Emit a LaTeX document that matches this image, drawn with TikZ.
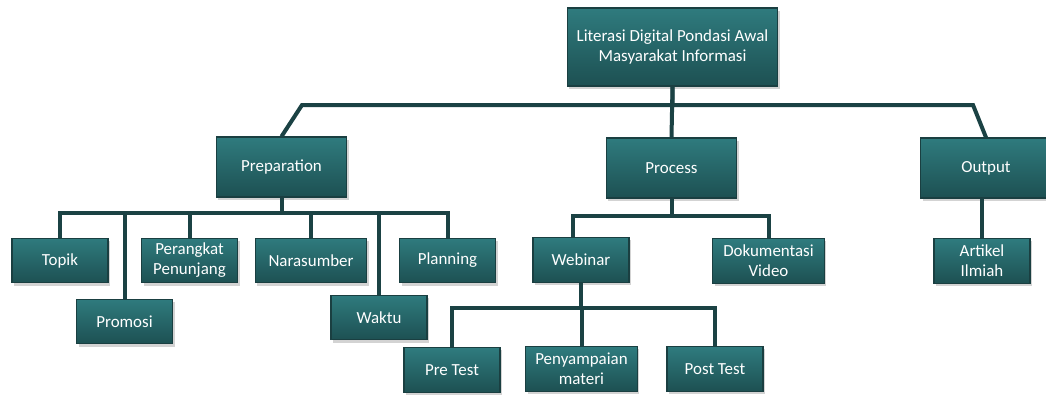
\documentclass[tikz,border=0pt]{standalone}
\usepackage{fontspec}
\setmainfont{Carlito}
\usepackage{tikz}
\usetikzlibrary{positioning,shadows}
\definecolor{boxtop}{HTML}{2F7B7E}
\definecolor{boxbot}{HTML}{1D5052}
\definecolor{boxline}{HTML}{1A3F41}
\definecolor{connline}{HTML}{1B4244}
\tikzset{
  box/.style={draw=boxline, line width=0.8pt, top color=boxtop, bottom color=boxbot,
    text=white, align=center, inner sep=2pt, font=\fontsize{12.7}{15}\selectfont,
    drop shadow={shadow xshift=1.5pt, shadow yshift=-2pt, opacity=0.35}},
  rootbox/.style={box, minimum width=158pt, minimum height=58.5pt},
  mainbox/.style={box, minimum width=98pt, minimum height=45pt},
  leaf/.style={box, minimum width=72pt, minimum height=33.5pt},
  wideleaf/.style={box, minimum width=83.5pt, minimum height=33.5pt},
  conn/.style={draw=connline, line width=3pt},
}
\begin{document}
\begin{tikzpicture}[x=0.75pt,y=-0.75pt]
        \useasboundingbox (0,0) rectangle (1046,394);
        % Boxes
        \node[rootbox] (root) at (672.5,47) {Literasi Digital Pondasi Awal\\Masyarakat Informasi};
        \node[mainbox] (prep) at (281.5,167) {Preparation};
        \node[mainbox] (proc) at (671.5,168) {Process};
        \node[mainbox] (outp) at (986,168) {Output};
        \node[leaf] (topik) at (60,260.5) {Topik};
        \node[leaf] (promosi) at (124.5,321.5) {Promosi};
        \node[leaf] (perangkat) at (189.5,260.5) {Perangkat\\Penunjang};
        \node[wideleaf] (narasumber) at (311,260.5) {Narasumber};
        \node[leaf] (waktu) at (379,317.5) {Waktu};
        \node[leaf] (planning) at (447.5,260.5) {Planning};
        \node[leaf] (webinar) at (581,260) {Webinar};
        \node[wideleaf] (dokumentasi) at (768.5,261) {Dokumentasi\\Video};
        \node[leaf] (pretest) at (452,370) {Pre Test};
        \node[wideleaf] (penyampaian) at (581.5,369) {Penyampaian\\materi};
        \node[leaf] (posttest) at (715,369) {Post Test};
        \node[leaf] (artikel) at (982,261) {Artikel\\Ilmiah};
        % Bar heights
        \coordinate (topbar) at (0,105);
        \coordinate (prepbar) at (0,213);
        \coordinate (procbar) at (0,216);
        \coordinate (webbar) at (0,308);
        % Root to main boxes
        \draw[conn] (root.south) -- (root.south |- topbar) -- (302,105) -- (prep.north);
        \draw[conn] (root.south |- topbar) -- (973,105) -- (outp.north);
        \draw[conn] (root.south) -- (proc.north);
        % Preparation
        \foreach \n in {topik,promosi,perangkat,narasumber,waktu,planning}
          \draw[conn] (prep.south) -- (prep.south |- prepbar) -| (\n.north);
        % Process
        \draw[conn] (proc.south) -- (proc.south |- procbar) -| ([xshift=-6]webinar.north);
        \draw[conn] (proc.south) -- (proc.south |- procbar) -| (dokumentasi.north);
        % Webinar
        \foreach \n in {pretest,penyampaian,posttest}
          \draw[conn] (webinar.south) -- (webinar.south |- webbar) -| (\n.north);
        % Output
        \draw[conn] (artikel.north |- outp.south) -- (artikel.north);
\end{tikzpicture}
\end{document}
